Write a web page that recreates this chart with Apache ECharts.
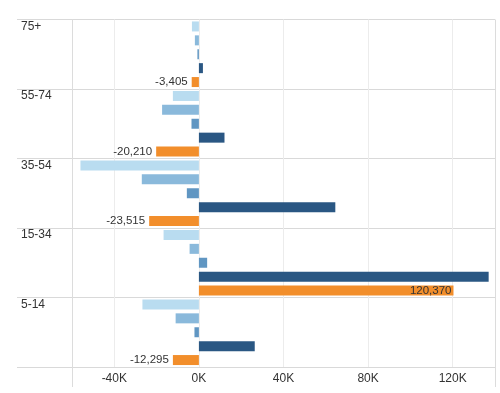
<!DOCTYPE html>
<html>
<head>
<meta charset="utf-8">
<script src="https://cdn.jsdelivr.net/npm/echarts@6/dist/echarts.min.js"></script>
<style>
html,body{margin:0;padding:0;background:#fff;}
#chart{width:500px;height:393px;}
</style>
</head>
<body>
<div id="chart"></div>
<script>
// Data
const ageGroups = ['75+', '55-74', '35-54', '15-34', '5-14'];
const seriesNames = ['Component 1', 'Component 2', 'Component 3', 'Component 4', 'Total'];
const comp1 = [-3300, -12300, -56000, -16700, -26700];
const comp2 = [-1900, -17400, -27000, -4400, -11000];
const comp3 = [-700, -3500, -5700, 3900, -2100];
const comp4 = [1900, 12100, 64500, 137000, 26400];
const totals = [-3405, -20210, -23515, 120370, -12295];
const xTickValues = [-40000, 0, 40000, 80000, 120000];

const colors = ['#b9dcf0', '#8ab9db', '#6096c2', '#2a5783', '#f28e2b'];
const textColor = '#333333';
const font = 'Liberation Sans, Arial, sans-serif';

const chart = echarts.init(document.getElementById('chart'), null, {renderer: 'canvas'});

const values = [comp1, comp2, comp3, comp4, totals];
const fmt = v => v.toLocaleString('en-US');

const series = values.map((arr, i) => {
  const s = {
    name: seriesNames[i],
    type: 'bar',
    xAxisIndex: 0,
    yAxisIndex: 0,
    barWidth: 10,
    barGap: '39%',
    itemStyle: {color: colors[i]},
    data: arr.slice(),
    z: 3
  };
  if (i === 4) {
    s.data = arr.map(v => ({
      value: v,
      label: {
        show: true,
        position: v < 0 ? 'left' : 'insideRight',
        distance: v < 0 ? 4 : 2,
        formatter: p => fmt(p.value),
        color: textColor,
        fontFamily: font,
        fontSize: 11.5
      }
    }));
  }
  return s;
});

const option = {
  animation: false,
  backgroundColor: '#ffffff',
  grid: [
    {left: 72, right: 5, top: 19.5, bottom: 26, containLabel: false},
    {left: 17, right: 5, top: 19.5, bottom: 26, containLabel: false},
    {left: 72, right: 5, top: 19.5, bottom: 6, containLabel: false}
  ],
  xAxis: [
    {
      gridIndex: 0,
      type: 'value',
      min: -60000,
      max: 140000,
      interval: 20000,
      axisLine: {show: false},
      axisTick: {show: false},
      splitLine: {show: true, lineStyle: {color: ['rgba(0,0,0,0)', '#ececec'], width: 1}},
      axisLabel: {
        color: textColor,
        fontFamily: font,
        fontSize: 12,
        margin: 6,
        formatter: v => xTickValues.indexOf(v) >= 0 ? (v / 1000) + 'K' : ''
      }
    },
    {
      gridIndex: 1,
      type: 'value',
      show: false,
      min: 0,
      max: 1
    },
    {
      gridIndex: 2,
      type: 'value',
      min: 0,
      max: 1,
      interval: 1,
      axisLine: {show: false},
      axisTick: {show: false},
      axisLabel: {show: false},
      splitLine: {show: true, lineStyle: {color: '#dcdcdc', width: 1}}
    }
  ],
  yAxis: [
    {
      gridIndex: 0,
      type: 'category',
      inverse: true,
      data: ageGroups,
      axisLine: {show: false},
      axisTick: {show: false},
      axisLabel: {show: false},
      splitLine: {show: false}
    },
    {
      gridIndex: 1,
      type: 'category',
      inverse: true,
      data: ageGroups,
      axisLine: {show: false},
      axisTick: {show: false},
      splitLine: {show: true, interval: 0, lineStyle: {color: '#d9d9d9', width: 1}},
      axisLabel: {
        inside: true,
        interval: 0,
        showMinLabel: true,
        showMaxLabel: true,
        hideOverlap: false,
        margin: 4,
        align: 'left',
        verticalAlign: 'middle',
        color: textColor,
        fontFamily: font,
        fontSize: 12,
        lineHeight: 14,
        formatter: v => v + '\n\n\n\n'
      }
    },
    {
      gridIndex: 2,
      type: 'value',
      show: false
    }
  ],
  series: series
};

chart.setOption(option);
</script>
</body>
</html>
